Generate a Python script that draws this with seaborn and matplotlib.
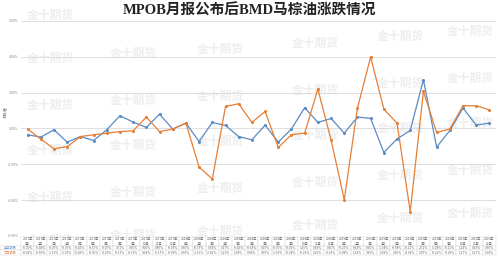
import numpy as np
import pandas as pd
import matplotlib
matplotlib.use("Agg")
import matplotlib.pyplot as plt
import seaborn as sns

# ---------------- data ----------------
title = "MPOB月报公布后BMD马棕油涨跌情况"
ylabel = "涨跌幅"
series_names = ["当日涨跌", "次日涨跌"]
report_dates = [f"{y}年\n{m}月" for y in (2017, 2018, 2019) for m in range(1, 13)]
blue_vals = [-0.35, -0.48, -0.07, -0.76, -0.45, -0.67, -0.07, 0.71, 0.36, 0.06,
             0.80, -0.03, 0.30, -0.73, 0.34, 0.17, -0.45, -0.63, 0.19, -0.76,
             -0.02, 1.16, 0.34, 0.56, -0.26, 0.64, 0.56, -1.34, -0.58, -0.11,
             2.72, -1.04, -0.11, 1.14, 0.19, 0.30]
orange_vals = [-0.03, -0.59, -1.13, -1.01, -0.45, -0.35, -0.26, -0.17, -0.13, 0.64,
               -0.17, -0.03, 0.30, -2.16, -2.82, 1.23, 1.38, 0.34, 0.95, -1.06,
               -0.34, -0.26, 2.20, -0.63, -3.98, 1.14, 3.99, 1.08, 0.30, -4.64,
               2.07, -0.22, -0.03, 1.27, 1.27, 1.04]
yticks = [-6, -4, -2, 0, 2, 4, 6]
watermark = "金十期货"

BLUE = "#5a8bc4"
ORANGE = "#e57f35"

n = len(report_dates)
df = pd.DataFrame({
    "idx": list(range(n)) * 2,
    "value": blue_vals + orange_vals,
    "series": [series_names[0]] * n + [series_names[1]] * n,
})

# ---------------- style ----------------
sns.set_theme(style="white")
plt.rcParams["font.family"] = ["Noto Sans CJK SC", "DejaVu Sans"]

W, H = 498, 257
fig = plt.figure(figsize=(W / 100, H / 100), dpi=100)
fig.patch.set_facecolor("white")

# watermarks (faint), skipping those hidden by the title / top edge
wm_cols = [50, 133, 220, 315, 400, 470]
wm_dy = [0, -5, -9, -15, -22, -27]
wm_rows = [15, 58, 105, 150, 197, 240]
for ry in wm_rows:
    for cx, dy in zip(wm_cols, wm_dy):
        yy = ry + dy
        if ry == wm_rows[0] and cx != wm_cols[0]:
            continue
        fig.text(cx / W, 1 - yy / H, watermark, ha="center", va="center",
                 fontsize=8.5, fontweight="bold", color="#eeeeee", zorder=-1)

ax_left, ax_right, ax_top, ax_bottom = 21, 496, 21, 236
ax = fig.add_axes([ax_left / W, 1 - ax_bottom / H,
                   (ax_right - ax_left) / W, (ax_bottom - ax_top) / H])
ax.patch.set_alpha(0)

sns.lineplot(data=df, x="idx", y="value", hue="series",
             palette=[BLUE, ORANGE], marker="o", markersize=2.2,
             markeredgewidth=0, linewidth=0.9, legend=False, ax=ax)

ax.set_xlim(-0.5, n - 0.5)
ax.set_ylim(yticks[0], yticks[-1])
ax.set_yticks(yticks)
ax.set_yticklabels([f"{v:.2f}%" for v in yticks], fontsize=2.5, color="#888888")
ax.tick_params(axis="y", length=0, pad=1.5)
ax.set_xticks([])
ax.set_xlabel("")
ax.set_ylabel("")
ax.grid(axis="y", color="#d9d9d9", linewidth=0.6)
for s in ax.spines.values():
    s.set_visible(False)

fig.text(5 / W, 1 - 112 / H, ylabel, rotation=90, ha="center", va="center",
         fontsize=2.8, color="#777777")

# title
fig.text(0.5, 1 - 11 / H, title, ha="center", va="center", fontsize=10.5,
         fontweight="bold", family=["Liberation Serif", "Noto Sans CJK SC"],
         color="#222222")

# data table below the axes
axw = ax_right - ax_left
axh = ax_bottom - ax_top
cell_text = [[series_names[0]] + [f"{v:.2f}%" for v in blue_vals],
             [series_names[1]] + [f"{v:.2f}%" for v in orange_vals]]
col_labels = [""] + report_dates
col_w = [ax_left] + [axw / n] * n
tbl = ax.table(cellText=cell_text, colLabels=col_labels, colWidths=col_w,
               cellLoc="center",
               bbox=[-ax_left / axw, -19 / axh, (axw + ax_left) / axw, 18 / axh])
tbl.auto_set_font_size(False)
tbl.set_fontsize(2.3)
for (r, c), cell in tbl.get_celld().items():
    cell.set_edgecolor("#d3d3d3")
    cell.set_linewidth(0.3)
    cell.get_text().set_color("#666666")
    if r == 0:
        cell.set_height(cell.get_height() * 1.8)
    if c == 0 and r > 0:
        cell.get_text().set_color(BLUE if r == 1 else ORANGE)
    if c == 0 and r == 0:
        cell.set_edgecolor("white")

fig.savefig("out.png", dpi=100)
